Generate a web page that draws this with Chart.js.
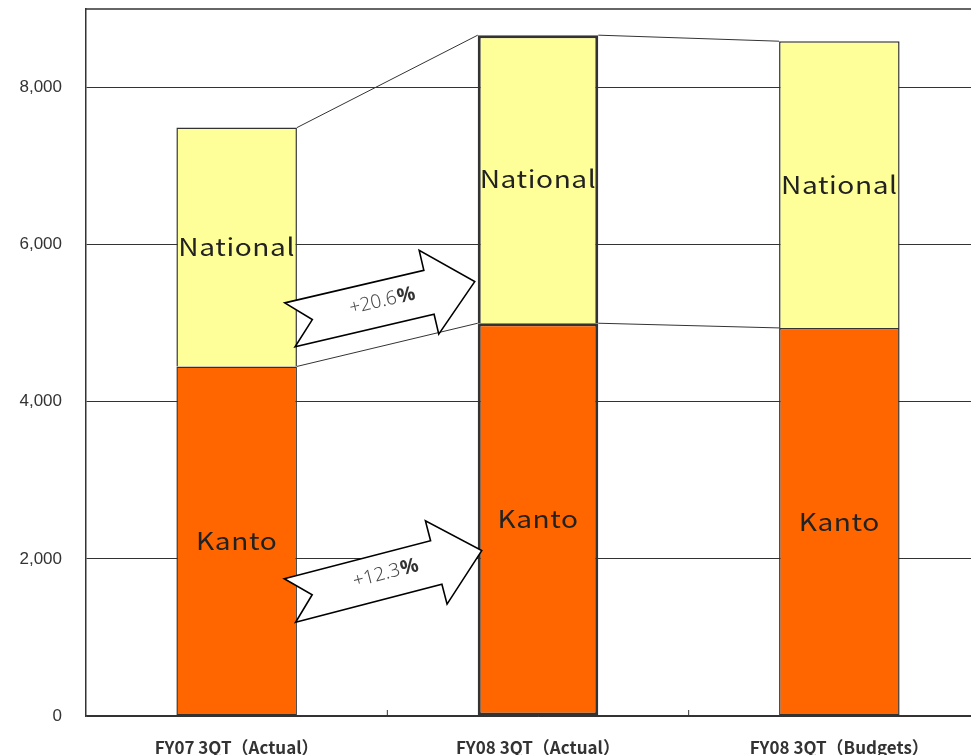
<!DOCTYPE html>
<html>
<head>
<meta charset="utf-8">
<script src="https://cdn.jsdelivr.net/npm/chart.js@4"></script>
<style>
  html, body { margin: 0; padding: 0; background: #fff; overflow: hidden; }
  #wrap { width: 990px; height: 755px; }
</style>
</head>
<body>
<div id="wrap"><canvas id="salesChart"></canvas></div>
<script>
// Ventas por trimestre, en dos segmentos apilados
const categories = ["FY07 3QT（Actual）", "FY08 3QT（Actual）", "FY08 3QT（Budgets）"];
const kanto = [4450, 5000, 4940];
const national = [3040, 3667, 3650];
const yTicks = [0, 2000, 4000, 6000, 8000];

// Flechas de crecimiento FY07 -> FY08 (valor en la cola y en la punta)
const growthLabels = ["+20.6", "+12.3"];
const growthFrom = [4980, 1470];
const growthTo = [5530, 2105];

const INK = "#333";

function outline(ctx, isTop) {
  const w = ctx.dataIndex === 1 ? 3 : 1.5;
  return { top: w, left: w, right: w, bottom: isTop ? 0 : w };
}

// Etiquetas dentro de cada segmento
const segmentLabels = {
  id: "segmentLabels",
  afterDatasetsDraw(chart) {
    const c = chart.ctx;
    chart.data.datasets.forEach((ds, di) => {
      chart.getDatasetMeta(di).data.forEach((bar) => {
        const { x, y, base } = bar.getProps(["x", "y", "base"], true);
        c.save();
        c.translate(x, (y + base) / 2);
        c.scale(1.17, 1);
        c.font = '24px "Noto Sans CJK JP", "Noto Sans", sans-serif';
        c.letterSpacing = "0.5px";
        c.fillStyle = "#222";
        c.textAlign = "center";
        c.textBaseline = "middle";
        c.fillText(ds.label, 0, 0);
        c.restore();
      });
    });
  },
};

// Líneas que unen los topes de cada segmento entre barras vecinas
const connectors = {
  id: "connectors",
  afterDatasetsDraw(chart) {
    const c = chart.ctx;
    c.save();
    c.strokeStyle = INK;
    c.lineWidth = 1;
    chart.data.datasets.forEach((ds, di) => {
      const bars = chart.getDatasetMeta(di).data;
      for (let i = 0; i < bars.length - 1; i++) {
        const a = bars[i].getProps(["x", "y", "width"], true);
        const b = bars[i + 1].getProps(["x", "y", "width"], true);
        c.beginPath();
        c.moveTo(a.x + a.width / 2, a.y);
        c.lineTo(b.x - b.width / 2, b.y);
        c.stroke();
      }
    });
    c.restore();
  },
};

// Flechas de bloque con el porcentaje de crecimiento
const growthArrows = {
  id: "growthArrows",
  afterDatasetsDraw(chart) {
    const c = chart.ctx;
    const yScale = chart.scales.y;
    const first = chart.getDatasetMeta(0).data[0].getProps(["x", "width"], true);
    const second = chart.getDatasetMeta(0).data[1].getProps(["x", "width"], true);
    const tipShift = [-3, 4];
    growthLabels.forEach((label, i) => {
      const x0 = first.x + first.width / 2 - 7;
      const y0 = yScale.getPixelForValue(growthFrom[i]);
      const x1 = second.x - second.width / 2 + tipShift[i];
      const y1 = yScale.getPixelForValue(growthTo[i]);
      const len = Math.hypot(x1 - x0, y1 - y0);
      const ang = Math.atan2(y1 - y0, x1 - x0);
      const hl = 47, hh = 43, sw = 22.5, notch = 23;

      c.save();
      c.translate(x0, y0);
      c.rotate(ang);
      c.beginPath();
      c.moveTo(0, -sw);
      c.lineTo(len - hl, -sw);
      c.lineTo(len - hl, -hh);
      c.lineTo(len, 0);
      c.lineTo(len - hl, hh);
      c.lineTo(len - hl, sw);
      c.lineTo(0, sw);
      c.lineTo(notch, 0);
      c.closePath();
      c.fillStyle = "#fff";
      c.fill();
      c.strokeStyle = "#000";
      c.lineWidth = 1.6;
      c.lineJoin = "miter";
      c.stroke();

      // texto: número fino + "%" en negrita
      const numFont = '300 19px "Noto Sans", sans-serif';
      const pctFont = 'bold 20px "Noto Sans", sans-serif';
      c.textBaseline = "middle";
      c.textAlign = "left";
      c.font = numFont;
      const numW = c.measureText(label).width;
      c.font = pctFont;
      const pctW = c.measureText("%").width;
      const start = len / 2 - (numW + pctW) / 2;
      c.fillStyle = "#4a4a4a";
      c.font = numFont;
      c.fillText(label, start, -2);
      c.fillStyle = "#333";
      c.font = pctFont;
      c.fillText("%", start + numW + 1, -2);
      c.restore();
    });
  },
};

// Borde superior del área y marcas entre categorías
const frame = {
  id: "frame",
  beforeDatasetsDraw(chart) {
    const { ctx: c, chartArea: a } = chart;
    const x = chart.scales.x;
    c.save();
    c.strokeStyle = INK;
    c.lineWidth = 1.5;
    c.beginPath();
    c.moveTo(a.left, a.top);
    c.lineTo(a.right, a.top);
    c.stroke();
    c.lineWidth = 1;
    for (let i = 1; i < categories.length; i++) {
      const px = (x.getPixelForValue(i - 1) + x.getPixelForValue(i)) / 2;
      c.beginPath();
      c.moveTo(px, a.bottom);
      c.lineTo(px, a.bottom - 6);
      c.stroke();
    }
    c.restore();
  },
};

const ctx = document.getElementById("salesChart").getContext("2d");
const salesChart = new Chart(ctx, {
  type: "bar",
  data: {
    labels: categories,
    datasets: [
      {
        label: "Kanto",
        data: kanto,
        backgroundColor: "#FF6600",
        borderColor: INK,
        borderWidth: (c) => outline(c, false),
        borderSkipped: false,
      },
      {
        label: "National",
        data: national,
        backgroundColor: "#FFFF99",
        borderColor: INK,
        borderWidth: (c) => outline(c, true),
        borderSkipped: false,
      },
    ],
  },
  options: {
    responsive: true,
    maintainAspectRatio: false,
    animation: false,
    barPercentage: 0.4,
    categoryPercentage: 1,
    layout: { padding: { top: 9, left: 0, right: 0, bottom: 0 } },
    plugins: {
      legend: { display: false },
      tooltip: { enabled: false },
    },
    scales: {
      x: {
        stacked: true,
        grid: { display: false },
        border: { display: true, color: INK, width: 1.5 },
        ticks: {
          color: "#333",
          padding: 13,
          maxRotation: 0,
          autoSkip: false,
          font: { family: '"Noto Sans CJK JP", sans-serif', size: 17, weight: "bold" },
        },
        afterFit: (scale) => {
          scale.height = 39;
          scale.paddingLeft = 0;
          scale.paddingRight = 0;
        },
      },
      y: {
        stacked: true,
        min: 0,
        max: 9000,
        afterBuildTicks: (scale) => {
          scale.ticks = yTicks.map((v) => ({ value: v }));
        },
        ticks: {
          color: "#333",
          padding: 24,
          font: { family: '"Liberation Sans", Arial, sans-serif', size: 17 },
          callback: (v) => v.toLocaleString("en-US"),
        },
        grid: { color: INK, lineWidth: 1, drawTicks: false },
        border: { display: true, color: INK, width: 1.5 },
        afterFit: (scale) => {
          scale.width = 86;
          scale.paddingTop = 0;
          scale.paddingBottom = 0;
        },
      },
    },
  },
  plugins: [frame, connectors, segmentLabels, growthArrows],
});
</script>
</body>
</html>
